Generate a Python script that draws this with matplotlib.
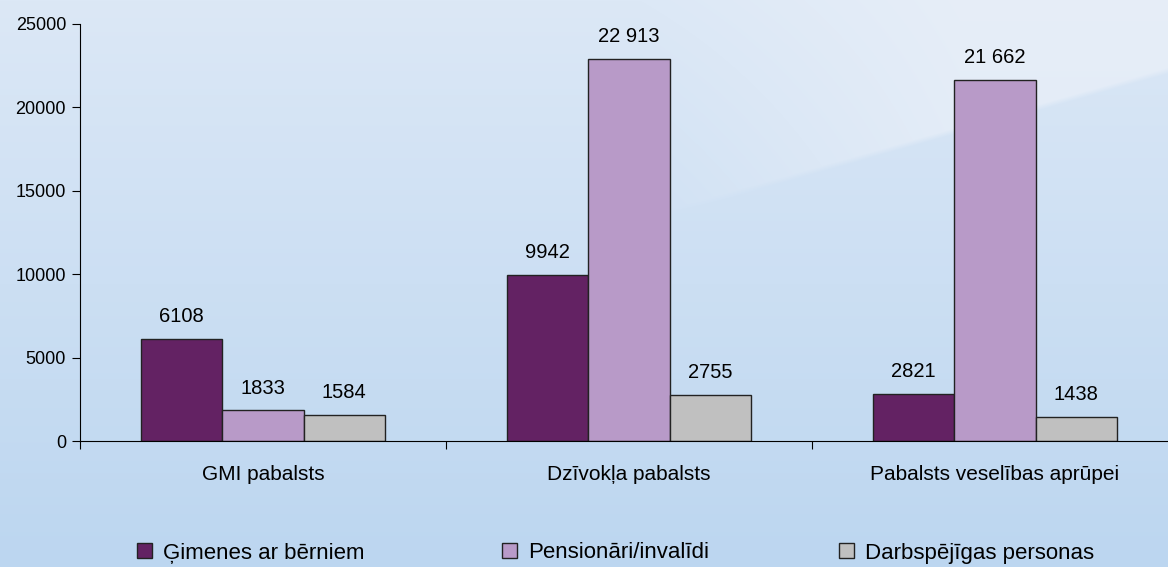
import numpy as np
import matplotlib.pyplot as plt
from matplotlib.patches import Patch

plt.rcParams['font.family'] = ['Liberation Sans', 'DejaVu Sans']

categories = ['GMI pabalsts', 'Dzīvokļa pabalsts', 'Pabalsts veselības aprūpei']
series_names = ['Ģimenes ar bērniem', 'Pensionāri/invalīdi', 'Darbspējīgas personas']
gimenes = [6108, 9942, 2821]
pensionari = [1833, 22913, 21662]
darbspejigas = [1584, 2755, 1438]
yticks = [0, 5000, 10000, 15000, 20000, 25000]

colors = ['#632263', '#b89ac8', '#c0c0c0']

W, H = 1168, 567
fig = plt.figure(figsize=(W / 100, H / 100), dpi=100)

# background: vertical blue gradient with a lighter band in the upper right
bg = fig.add_axes([0, 0, 1, 1], zorder=0)
bg.axis('off')
py, px = np.mgrid[0:H, 0:W]
t = (py / H)[..., None]
top = np.array([220, 232, 246]) / 255
bot = np.array([188, 214, 240]) / 255
img = top * (1 - t) + bot * t
edge = 213 - 0.283 * (px - 663)
soft = np.clip((edge - py) / 6 + 0.5, 0, 1)
w = (soft * np.clip((px - 640) / 320, 0, 1) * 0.65)[..., None]
light = np.array([236, 241, 249]) / 255
img = img * (1 - w) + light * w
bg.imshow(img, aspect='auto', extent=[0, 1, 0, 1], origin='upper', interpolation='bilinear')
bg.set_xlim(0, 1)
bg.set_ylim(0, 1)

ax = fig.add_axes([80 / W, 1 - 441 / H, 1098 / W, 417 / H], zorder=1)
ax.patch.set_alpha(0)

x = np.arange(len(categories))
bw = 0.222
data = [gimenes, pensionari, darbspejigas]
for i, vals in enumerate(data):
    xs = x + (i - 1) * bw
    ax.bar(xs, vals, width=bw, color=colors[i], edgecolor='#222222', linewidth=1.0, zorder=2)
    for xi, v in zip(xs, vals):
        lab = f'{v:,}'.replace(',', ' ') if v >= 10000 else str(v)
        ax.annotate(lab, (xi, v), xytext=(0, 16), textcoords='offset points',
                    ha='center', va='center', fontsize=14.5)

ax.set_xlim(-0.5, 2.5)
ax.set_ylim(0, 25000)
ax.set_yticks(yticks)
ax.set_yticklabels([str(t) for t in yticks], fontsize=13)
ax.set_xticks([-0.5, 0.5, 1.5])
ax.set_xticklabels([])
ax.set_xticks(x, minor=True)
ax.set_xticklabels(categories, minor=True, fontsize=15)
ax.tick_params(axis='x', which='minor', length=0, pad=17)
ax.tick_params(axis='x', which='major', length=6, direction='out')
ax.tick_params(axis='y', length=6, direction='out', pad=4)
for s in ['top', 'right']:
    ax.spines[s].set_visible(False)

leg_x = [137, 502, 839]
for i, name in enumerate(series_names):
    h = Patch(facecolor=colors[i], edgecolor='#222222')
    fig.legend([h], [name], loc='center left', bbox_to_anchor=(leg_x[i] / W, 1 - 553 / H),
               frameon=False, fontsize=16, borderpad=0, borderaxespad=0,
               handlelength=0.68, handleheight=0.68, handletextpad=0.5)

fig.savefig('out.png', dpi=100)
